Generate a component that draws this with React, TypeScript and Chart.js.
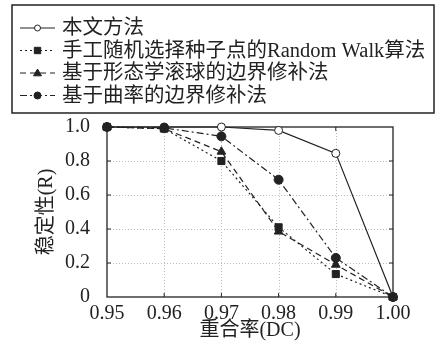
import React, { useEffect, useRef } from "react";
import { Chart, registerables } from "chart.js";

Chart.register(...registerables);

const categories = ["0.95", "0.96", "0.97", "0.98", "0.99", "1.00"];
const seriesNames = [
  "本文方法",
  "手工随机选择种子点的Random Walk算法",
  "基于形态学滚球的边界修补法",
  "基于曲率的边界修补法",
];
const oursValues = [1.0, 1.0, 1.0, 0.98, 0.845, 0];
const randomWalkValues = [1.0, 0.99, 0.8, 0.41, 0.135, 0];
const morphValues = [1.0, 0.99, 0.855, 0.385, 0.19, 0];
const curvatureValues = [1.0, 0.995, 0.945, 0.69, 0.23, 0];
const yTicks = [0, 0.2, 0.4, 0.6, 0.8, 1.0];
const xTitle = "重合率(DC)";
const yTitle = "稳定性(R)";

const FAMILY = '"Liberation Serif", "Noto Sans CJK SC", serif';
const FONT = "20px " + FAMILY;
const LEGEND_FONT = "20.5px " + FAMILY;
const INK = "#222";

const styles = [
  { dash: [], point: "circle", fill: "#fff", radius: 4, order: 3 },
  { dash: [2, 3], point: "rect", fill: INK, radius: 5, order: 2 },
  { dash: [6, 4], point: "triangle", fill: INK, radius: 5, order: 1 },
  { dash: [7, 3, 2, 3], point: "circle", fill: INK, radius: 4.5, order: 0 },
];

const decorPlugin = {
  id: "decor",
  beforeDatasetsDraw(chart: any) {
    const { ctx, chartArea: a, scales } = chart;
    const x = scales.x;
    const y = scales.y;
    ctx.save();
    ctx.strokeStyle = "#bbb";
    ctx.lineWidth = 1;
    ctx.setLineDash([1, 2]);
    for (let i = 1; i < categories.length - 1; i++) {
      const px = Math.round(x.getPixelForValue(i)) + 0.5;
      ctx.beginPath();
      ctx.moveTo(px, a.top);
      ctx.lineTo(px, a.bottom);
      ctx.stroke();
    }
    for (const v of yTicks) {
      if (v === 0 || v === 1) continue;
      const py = Math.round(y.getPixelForValue(v)) + 0.5;
      ctx.beginPath();
      ctx.moveTo(a.left, py);
      ctx.lineTo(a.right, py);
      ctx.stroke();
    }
    ctx.setLineDash([]);
    ctx.strokeStyle = INK;
    ctx.lineWidth = 1.3;
    ctx.strokeRect(a.left, a.top, a.right - a.left, a.bottom - a.top);
    ctx.lineWidth = 1;
    const t = 4;
    for (let i = 1; i < categories.length - 1; i++) {
      const px = x.getPixelForValue(i);
      ctx.beginPath();
      ctx.moveTo(px, a.bottom);
      ctx.lineTo(px, a.bottom - t);
      ctx.moveTo(px, a.top);
      ctx.lineTo(px, a.top + t);
      ctx.stroke();
    }
    for (const v of yTicks) {
      if (v === 0 || v === 1) continue;
      const py = y.getPixelForValue(v);
      ctx.beginPath();
      ctx.moveTo(a.left, py);
      ctx.lineTo(a.left + t, py);
      ctx.moveTo(a.right, py);
      ctx.lineTo(a.right - t, py);
      ctx.stroke();
    }
    ctx.fillStyle = INK;
    ctx.font = FONT;
    ctx.textAlign = "center";
    ctx.textBaseline = "middle";
    ctx.fillText(xTitle, (a.left + a.right) / 2, 331);
    ctx.save();
    ctx.translate(47, (a.top + a.bottom) / 2);
    ctx.rotate(-Math.PI / 2);
    ctx.fillText(yTitle, 0, 0);
    ctx.restore();
    ctx.restore();
  },
  afterDraw(chart: any) {
    const { ctx } = chart;
    ctx.save();
    ctx.strokeStyle = INK;
    ctx.lineWidth = 1.5;
    ctx.strokeRect(12, 5, 422, 108);
    const rows = [28, 50.5, 73, 95.5];
    seriesNames.forEach((name, i) => {
      const st = styles[i];
      const yy = rows[i];
      ctx.strokeStyle = INK;
      ctx.lineWidth = 1.2;
      ctx.setLineDash(st.dash);
      ctx.beginPath();
      ctx.moveTo(20, yy);
      ctx.lineTo(55, yy);
      ctx.stroke();
      ctx.setLineDash([]);
      ctx.fillStyle = st.fill;
      ctx.lineWidth = 1;
      const r = st.radius - 1;
      ctx.beginPath();
      if (st.point === "circle") {
        ctx.arc(37.5, yy, r, 0, Math.PI * 2);
      } else if (st.point === "rect") {
        ctx.rect(37.5 - r * 0.8, yy - r * 0.8, r * 1.6, r * 1.6);
      } else {
        ctx.moveTo(37.5, yy - r);
        ctx.lineTo(37.5 + r, yy + r * 0.7);
        ctx.lineTo(37.5 - r, yy + r * 0.7);
        ctx.closePath();
      }
      ctx.fill();
      ctx.stroke();
      ctx.fillStyle = INK;
      ctx.font = LEGEND_FONT;
      ctx.textAlign = "left";
      ctx.textBaseline = "middle";
      ctx.fillText(name, 62, yy + 1);
    });
    ctx.restore();
  },
};

export default function App() {
  const ref = useRef<HTMLCanvasElement | null>(null);
  useEffect(() => {
    if (!ref.current) return;
    const all = [oursValues, randomWalkValues, morphValues, curvatureValues];
    const chart = new Chart(ref.current, {
      type: "line",
      data: {
        labels: categories,
        datasets: all.map((vals, i) => ({
          label: seriesNames[i],
          data: vals,
          order: styles[i].order,
          borderColor: INK,
          borderWidth: 1.2,
          borderDash: styles[i].dash,
          pointStyle: styles[i].point as any,
          pointRadius: styles[i].radius,
          pointBackgroundColor: styles[i].fill,
          pointBorderColor: INK,
          pointBorderWidth: 1,
          tension: 0,
          fill: false,
          clip: false as any,
        })),
      },
      options: {
        animation: false,
        responsive: false,
        devicePixelRatio: 1,
        layout: { padding: { top: 127, right: 43, left: 0, bottom: 0 } },
        plugins: { legend: { display: false }, tooltip: { enabled: false } },
        scales: {
          x: {
            type: "category",
            offset: false,
            grid: { display: false, drawTicks: false },
            border: { display: false },
            ticks: {
              color: INK,
              font: { family: FAMILY, size: 20 },
              padding: 5,
              maxRotation: 0,
              autoSkip: false,
            },
            afterFit: (s: any) => {
              s.height = 47;
            },
          },
          y: {
            type: "linear",
            min: 0,
            max: 1,
            grid: { display: false, drawTicks: false },
            border: { display: false },
            ticks: {
              stepSize: 0.2,
              color: INK,
              font: { family: FAMILY, size: 20 },
              padding: 17,
              callback: (v: any) => (Number(v) === 0 ? "0" : Number(v).toFixed(1)),
            },
            afterFit: (s: any) => {
              s.width = 107;
            },
          },
        },
      },
      plugins: [decorPlugin],
    });
    return () => chart.destroy();
  }, []);
  return (
    <div style={{ position: "fixed", left: 0, top: 0, width: 436, height: 344, background: "#fff" }}>
      <canvas ref={ref} width={436} height={344} style={{ width: 436, height: 344 }} />
    </div>
  );
}
